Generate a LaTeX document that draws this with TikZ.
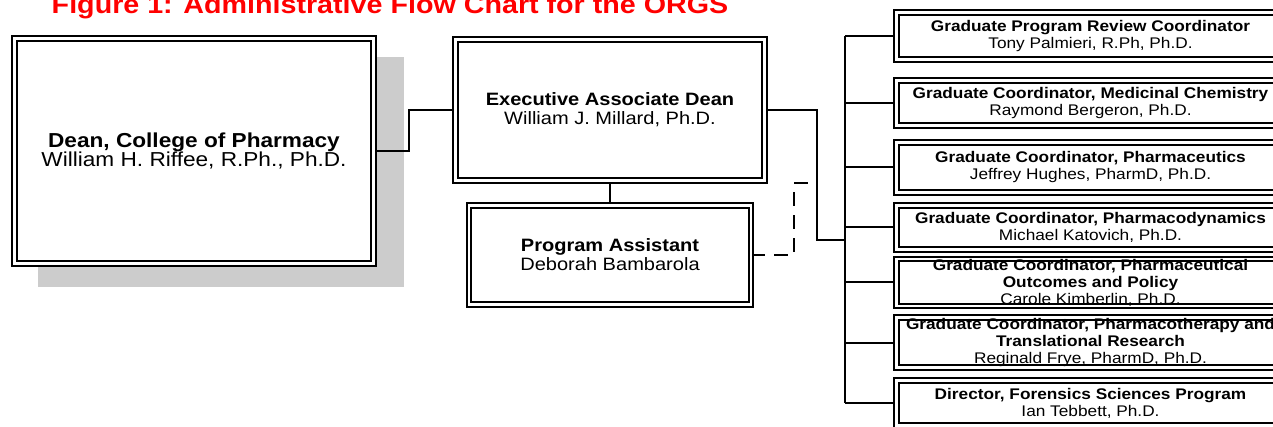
\documentclass[tikz,border=0pt]{standalone}
\usepackage{fontspec}
\setmainfont[FakeStretch=1.12]{Liberation Sans}
\usetikzlibrary{calc,backgrounds}
\definecolor{shadowgray}{RGB}{204,204,204}
\definecolor{titlered}{RGB}{255,0,0}
\begin{document}
\begin{tikzpicture}[x=1pt, y=-1pt,
  officebox/.style={draw, double, double distance=2.4pt, line width=2pt, fill=white,
    inner sep=0pt, outer sep=0pt, align=center},
  deanbox/.style={officebox, font=\fontsize{20.2}{19}\selectfont},
  midbox/.style={officebox, font=\fontsize{17.9}{19}\selectfont},
  gradbox/.style={officebox, minimum width=388pt, font=\fontsize{15.4}{17}\selectfont},
  link/.style={line width=2pt}]
  \useasboundingbox (0,0) rectangle (1273,427);
  \clip (0,0) rectangle (1273,427);
  \node[anchor=base, text=titlered, font=\fontsize{25.6}{28}\selectfont\bfseries] (title) at (390,14) {Figure 1: Administrative Flow Chart for the ORGS};
  \node[deanbox, minimum width=359pt, minimum height=225pt] (dean) at (194,151) {\textbf{Dean, College of Pharmacy}\\William H. Riffee, R.Ph., Ph.D.};
  \node[midbox, minimum width=309pt, minimum height=141pt] (exec) at (610,110) {\textbf{Executive Associate Dean}\\William J. Millard, Ph.D.};
  \node[midbox, minimum width=282pt, minimum height=99pt] (pa) at (610,255) {\textbf{Program Assistant}\\Deborah Bambarola};
  \node[gradbox, minimum height=47pt] (g1) at (1090.5,36)  {\textbf{Graduate Program Review Coordinator}\\Tony Palmieri, R.Ph, Ph.D.};
  \node[gradbox, minimum height=45pt] (g2) at (1090.5,103) {\textbf{Graduate Coordinator, Medicinal Chemistry}\\Raymond Bergeron, Ph.D.};
  \node[gradbox, minimum height=50pt] (g3) at (1090.5,167.5) {\textbf{Graduate Coordinator, Pharmaceutics}\\Jeffrey Hughes, PharmD, Ph.D.};
  \node[gradbox, minimum height=44pt] (g4) at (1090.5,227.5) {\textbf{Graduate Coordinator, Pharmacodynamics}\\Michael Katovich, Ph.D.};
  \node[gradbox, minimum height=46pt] (g5) at (1090.5,282.5) {\textbf{Graduate Coordinator, Pharmaceutical}\\\textbf{Outcomes and Policy}\\Carole Kimberlin, Ph.D.};
  \node[gradbox, minimum height=50pt] (g6) at (1090.5,342.5) {\textbf{Graduate Coordinator, Pharmacotherapy and}\\\textbf{Translational Research}\\Reginald Frye, PharmD, Ph.D.};
  \node[gradbox, minimum height=45pt] (g7) at (1090.5,403) {\textbf{Director, Forensics Sciences Program}\\Ian Tebbett, Ph.D.};
  \coordinate (trunk) at (845,0);
  \coordinate (elbow) at (817,110);
  \coordinate (hub) at (845,240);
  \begin{pgfonlayer}{background}
    \fill[shadowgray] ($(dean.north west)+(23,19)$) rectangle ($(dean.south east)+(30,24)$);
    \draw[link] (dean.east) -- ++(35.5,0) |- (exec.west);
    \draw[link] (exec.south) -- (pa.north);
    \draw[link] (exec.east) -- (elbow) |- (hub);
    \draw[link] (g1.west -| trunk) -- (g7.west -| trunk);
    \foreach \i in {1,...,7}
      \draw[link] (g\i.west -| trunk) -- (g\i.west);
    \draw[link, dash pattern=on 14pt off 9pt] (pa.east) -- ++(43,0) |- ($(elbow)+(0,73)$);
  \end{pgfonlayer}
\end{tikzpicture}
\end{document}
